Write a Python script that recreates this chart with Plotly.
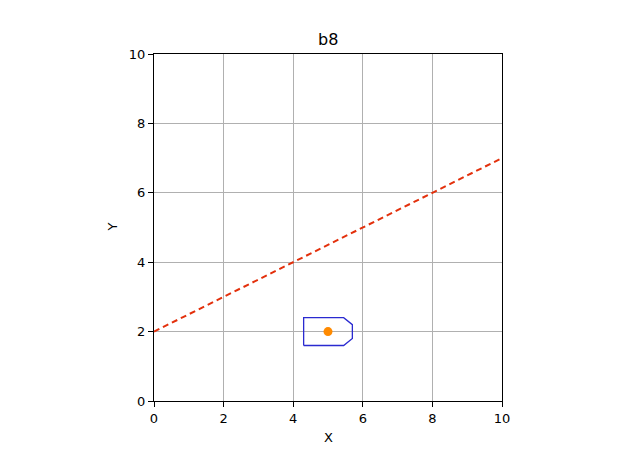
import plotly.graph_objects as go

# Data
line_x = [0, 10]
line_y = [2, 7]
boat_x = [4.3, 5.45, 5.7, 5.7, 5.45, 4.3, 4.3]
boat_y = [1.6, 1.6, 1.8, 2.2, 2.4, 2.4, 1.6]
center_x = [5]
center_y = [2]
ticks = [0, 2, 4, 6, 8, 10]
title_text = "b8"

fig = go.Figure()
fig.add_trace(go.Scatter(x=boat_x, y=boat_y, mode="lines",
                         line=dict(color="#2a2ad0", width=1.3), showlegend=False))
fig.add_trace(go.Scatter(x=line_x, y=line_y, mode="lines",
                         line=dict(color="#e3300c", width=2, dash="6px,4px"), showlegend=False))
fig.add_trace(go.Scatter(x=center_x, y=center_y, mode="markers",
                         marker=dict(color="#ff8a00", size=9, line=dict(width=0)), showlegend=False))

axis_common = dict(
    range=[0, 10], tickvals=ticks, ticktext=[str(t) for t in ticks],
    showgrid=True, gridcolor="#b0b0b0", gridwidth=0.7,
    showline=True, linecolor="black", linewidth=1.2, mirror=True,
    ticks="outside", ticklen=5, tickwidth=1, tickcolor="black",
    zeroline=False, tickfont=dict(family="DejaVu Sans", size=13, color="black"),
)
fig.update_xaxes(**axis_common)
fig.update_yaxes(**axis_common)

# target plot area pixels: x 154..502, y 54..401 (page has 8px body margin)
def px_x(px):
    return (px - 154) / 348.0

def px_y(py):
    return (401 - py) / 347.0

fig.update_layout(
    width=640, height=452,
    margin=dict(l=146, r=146, t=46, b=59),
    paper_bgcolor="white", plot_bgcolor="white",
    font=dict(family="DejaVu Sans", color="black"),
    annotations=[
        dict(text=title_text, x=0.5, y=px_y(40), xref="paper", yref="paper",
             showarrow=False, font=dict(size=16), xanchor="center", yanchor="middle"),
        dict(text="X", x=0.5, y=px_y(437), xref="paper", yref="paper",
             showarrow=False, font=dict(size=13), xanchor="center", yanchor="middle"),
        dict(text="Y", x=px_x(112), y=0.5, xref="paper", yref="paper",
             showarrow=False, font=dict(size=13), textangle=-90,
             xanchor="center", yanchor="middle"),
    ],
)

fig.write_html("out.html")
